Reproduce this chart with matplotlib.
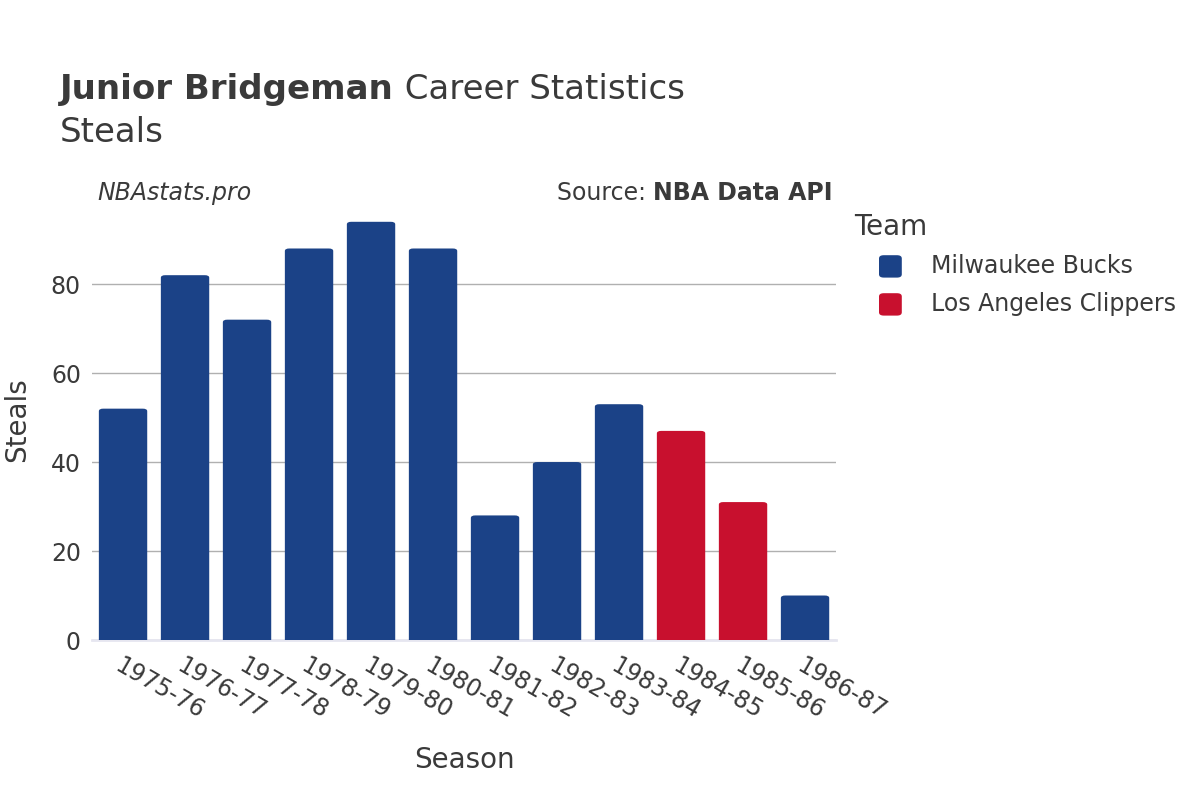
import matplotlib
matplotlib.use("Agg")
import matplotlib.pyplot as plt
from matplotlib.patches import FancyBboxPatch

seasons = ["1975-76", "1976-77", "1977-78", "1978-79", "1979-80", "1980-81",
           "1981-82", "1982-83", "1983-84", "1984-85", "1985-86", "1986-87"]
steals = [52, 82, 72, 88, 94, 88, 28, 40, 53, 47, 31, 10]
teams = ["Milwaukee Bucks"] * 9 + ["Los Angeles Clippers"] * 2 + ["Milwaukee Bucks"]
team_colors = {"Milwaukee Bucks": "#1b4287", "Los Angeles Clippers": "#c8102e"}

plt.rcParams['font.family'] = ['DejaVu Sans']
txt = "#3a3a3a"

fig = plt.figure(figsize=(12, 8), dpi=100)
ax = fig.add_axes([0.0767, 0.2, 0.62, 0.55])

x = list(range(len(seasons)))
bars = ax.bar(x, steals, width=0.78, color=[team_colors[t] for t in teams])
# swap plain bars for rounded ones
for b in bars:
    bx, by = b.get_x(), b.get_y()
    w, h = b.get_width(), b.get_height()
    r = 0.07
    p = FancyBboxPatch((bx + r, by), w - 2 * r, h - r * 8,
                       boxstyle="round,pad=%f,rounding_size=%f" % (r, r),
                       mutation_aspect=8, fc=b.get_facecolor(), ec="none", zorder=3)
    b.set_visible(False)
    ax.add_patch(p)

ax.set_xlim(-0.5, len(seasons) - 0.5)
ax.set_ylim(0, 98.9)
ax.set_yticks([0, 20, 40, 60, 80])
ax.grid(axis="y", color="#b0b0b0", linewidth=1)
ax.set_axisbelow(True)
for s in ["top", "right", "left"]:
    ax.spines[s].set_visible(False)
ax.spines["bottom"].set_color("#e6e6f0")
ax.spines["bottom"].set_linewidth(2)
ax.tick_params(axis="both", length=0, labelsize=17, colors=txt, pad=8)
ax.tick_params(axis="x", pad=10)
ax.set_xticks(x)
ax.set_xticklabels(seasons, rotation=-30, ha="left", rotation_mode="anchor")

ax.set_xlabel("Season", fontsize=20, color=txt, va="center")
ax.xaxis.set_label_coords(0.5, -0.2727)
ax.set_ylabel("Steals", fontsize=20, color=txt, va="center")
ax.yaxis.set_label_coords(-0.101, 0.5)

t1 = fig.text(0.05, 0.888, "Junior Bridgeman", fontsize=24.5, fontweight="bold", color=txt, va="center")
ax.annotate(" Career Statistics", xy=(1, 0.5), xycoords=t1, va="center",
            fontsize=24.5, color=txt)
fig.text(0.05, 0.834, "Steals", fontsize=24.5, color=txt, va="center")
fig.text(0.081, 0.759, "NBAstats.pro", fontsize=17, style="italic", color=txt, va="center")
t2 = fig.text(0.694, 0.759, "NBA Data API", fontsize=17, fontweight="bold", color=txt, va="center", ha="right")
ax.annotate("Source: ", xy=(0, 0.5), xycoords=t2, va="center", ha="right",
            fontsize=17, color=txt)

fig.text(0.712, 0.716, "Team", fontsize=20, color=txt, va="center")
for i, name in enumerate(["Milwaukee Bucks", "Los Angeles Clippers"]):
    yy = 0.667 - i * 0.0475
    fig.patches.append(FancyBboxPatch((0.7325, yy - 0.014), 0.019, 0.028,
                                      boxstyle="round,pad=0,rounding_size=0.004",
                                      transform=fig.transFigure, fc=team_colors[name], ec="none"))
    fig.text(0.776, yy, name, fontsize=17, color=txt, va="center")

fig.savefig("out.png", dpi=100)
